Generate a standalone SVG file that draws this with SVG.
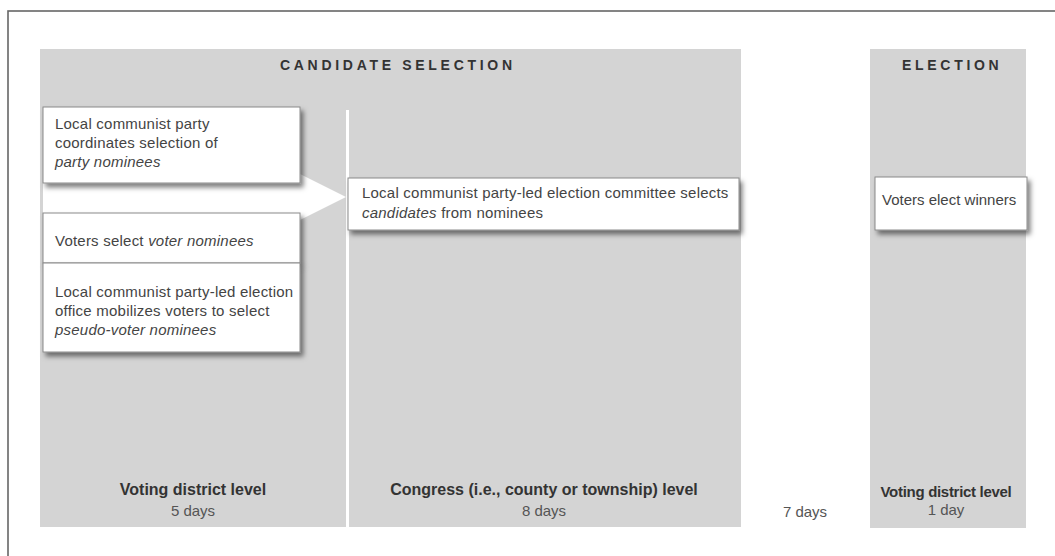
<svg xmlns="http://www.w3.org/2000/svg" width="1055" height="556" viewBox="0 0 1055 556">
<defs>
<filter id="sh" x="-10%" y="-20%" width="130%" height="160%">
<feDropShadow dx="3" dy="4" stdDeviation="2.5" flood-color="#000" flood-opacity="0.5"/>
</filter>
</defs>
<style>
.panel{fill:#d4d4d4}
.box{fill:#fff;stroke:#8a8a8a;stroke-width:1}
.t{font-family:"Liberation Sans",Arial,sans-serif;font-size:15px;fill:#444;letter-spacing:0.22px}
.hd{font-family:"Liberation Sans",Arial,sans-serif;font-size:14px;font-weight:bold;fill:#333;letter-spacing:3.7px}
.lv{font-family:"Liberation Sans",Arial,sans-serif;font-size:16px;font-weight:bold;fill:#333;text-anchor:middle}
.dy{font-family:"Liberation Sans",Arial,sans-serif;font-size:15px;fill:#555;text-anchor:middle}
</style>
<rect x="0" y="0" width="1055" height="556" fill="#fff"/>
<rect x="8" y="11" width="1070" height="580" fill="none" stroke="#666" stroke-width="1.6"/>

<g id="panel-candidate">
<rect class="panel" x="40" y="49" width="701" height="478"/>
<rect x="346" y="110" width="3" height="417" fill="#fff"/>
<text class="hd" x="280" y="70">CANDIDATE SELECTION</text>
<text class="lv" x="193" y="495">Voting district level</text>
<text class="dy" x="193" y="516">5 days</text>
<text class="lv" x="544" y="495">Congress (i.e., county or township) level</text>
<text class="dy" x="544" y="516">8 days</text>
</g>

<g id="gap-label">
<text class="dy" x="805" y="517">7 days</text>
</g>

<g id="panel-election">
<rect class="panel" x="870" y="49" width="156" height="479"/>
<text class="hd" x="902" y="70">ELECTION</text>
<text class="lv" x="946" y="497" style="font-size:15px;letter-spacing:-0.3px">Voting district level</text>
<text class="dy" x="946" y="515">1 day</text>
</g>

<g id="connectors">
<polygon points="43,183 300,183 300,174 346,197 300,220 300,213 43,213" fill="#fff"/>
</g>

<g id="party-nominees">
<rect class="box" x="43" y="107" width="257" height="76" filter="url(#sh)"/>
<text class="t" x="55" y="129">Local communist party</text>
<text class="t" x="55" y="148">coordinates selection of</text>
<text class="t" x="55" y="167" font-style="italic">party nominees</text>
</g>

<g id="voter-nominees">
<rect class="box" x="43" y="213" width="257" height="50" filter="url(#sh)"/>
<text class="t" x="55" y="246">Voters select <tspan font-style="italic">voter nominees</tspan></text>
</g>

<g id="pseudo-voter-nominees">
<rect class="box" x="43" y="263" width="257" height="89" filter="url(#sh)"/>
<text class="t" x="55" y="297">Local communist party-led election</text>
<text class="t" x="55" y="316">office mobilizes voters to select</text>
<text class="t" x="55" y="335" font-style="italic">pseudo-voter nominees</text>
</g>

<g id="committee">
<rect class="box" x="348" y="178" width="391" height="52" filter="url(#sh)"/>
<text class="t" x="362" y="198">Local communist party-led election committee selects</text>
<text class="t" x="362" y="218"><tspan font-style="italic">candidates</tspan> from nominees</text>
</g>

<g id="voters-elect">
<rect class="box" x="875" y="177" width="152" height="53" filter="url(#sh)"/>
<text class="t" x="882" y="205" style="letter-spacing:0">Voters elect winners</text>
</g>
</svg>
